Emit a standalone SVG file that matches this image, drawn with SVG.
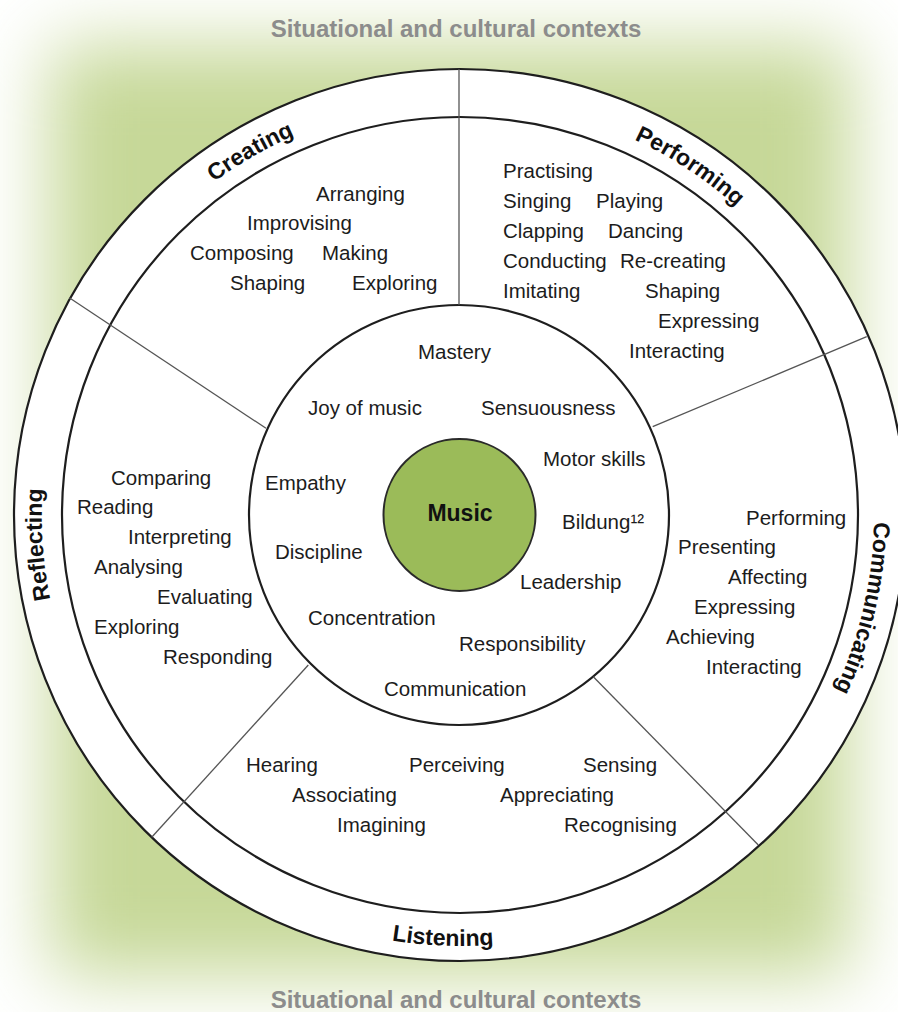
<svg xmlns="http://www.w3.org/2000/svg" width="898" height="1012" viewBox="0 0 898 1012">
<defs>
<filter id="soft" x="-20%" y="-20%" width="140%" height="140%"><feGaussianBlur stdDeviation="38"/></filter>
<path id="pCreating" d="M 71.0 373.4 A 414 414 0 0 1 531.9 107.3"/>
<path id="pPerforming" d="M 412.4 103.7 A 414 414 0 0 1 856.7 396.7"/>
<path id="pCommunicating" d="M 828.9 327.0 A 414 414 0 0 1 709.1 845.6"/>
<path id="pReflecting" d="M 159.0 805.7 A 418 418 0 0 1 121.8 269.3"/>
<path id="pListening" d="M 169.8 833.6 A 431 431 0 0 0 723.6 856.0"/>
</defs>
<style>
.bg{fill:#c6d898}
.ring{fill:#fff;stroke:#1e1e1e;stroke-width:2.2}
.sep{stroke:#555;stroke-width:1.3;fill:none}
.t{font-family:"Liberation Sans",Arial,sans-serif;font-size:20.5px;fill:#1c1c1c}
.h{font-family:"Liberation Sans",Arial,sans-serif;font-size:23px;font-weight:bold;fill:#111}
.ctx{font-family:"Liberation Sans",Arial,sans-serif;font-size:24px;font-weight:bold;fill:#8c8c8c;text-anchor:middle}
.music{fill:#9bbb59;stroke:#2a2a2a;stroke-width:2}
</style>
<rect width="898" height="1012" fill="#ffffff"/>
<rect class="bg" x="50" y="45" width="800" height="930" filter="url(#soft)"/>
<g id="context">
<text class="ctx" x="456" y="37">Situational and cultural contexts</text>
<text class="ctx" x="456" y="1008">Situational and cultural contexts</text>
</g>
<g id="rings">
<circle class="ring" cx="460" cy="515" r="446"/>
<circle class="ring" cx="460" cy="515" r="398" stroke-width="2"/>
<circle class="ring" cx="459" cy="515" r="210" stroke-width="2"/>
</g>
<g id="connectors">
<line class="sep" x1="459" y1="69" x2="459" y2="305"/>
<line class="sep" x1="69.3" y1="297.7" x2="266" y2="428.3"/>
<line class="sep" x1="866.7" y1="336.7" x2="652.7" y2="426.7"/>
<line class="sep" x1="151.7" y1="837.3" x2="308.3" y2="665"/>
<line class="sep" x1="758.3" y1="845" x2="593.3" y2="676.7"/>
</g>
<g id="music">
<circle class="music" cx="459.5" cy="515" r="76"/>
<text x="460" y="521" text-anchor="middle" style="font-family:'Liberation Sans',Arial,sans-serif;font-size:23px;font-weight:bold;fill:#111">Music</text>
</g>
<g id="outcomes" class="t">
<text class="t" x="418" y="359">Mastery</text>
<text class="t" x="308" y="415">Joy of music</text>
<text class="t" x="481" y="415">Sensuousness</text>
<text class="t" x="543" y="466">Motor skills</text>
<text class="t" x="265" y="490">Empathy</text>
<text class="t" x="562" y="529">Bildung¹²</text>
<text class="t" x="275" y="559">Discipline</text>
<text class="t" x="520" y="589">Leadership</text>
<text class="t" x="308" y="625">Concentration</text>
<text class="t" x="459" y="651">Responsibility</text>
<text class="t" x="384" y="696">Communication</text>
</g>
<g id="creating">
<text class="h"><textPath href="#pCreating" startOffset="50%" text-anchor="middle">Creating</textPath></text>
<text class="t" x="316" y="201">Arranging</text>
<text class="t" x="247" y="230">Improvising</text>
<text class="t" x="190" y="260">Composing</text>
<text class="t" x="322" y="260">Making</text>
<text class="t" x="230" y="290">Shaping</text>
<text class="t" x="352" y="290">Exploring</text>
</g>
<g id="performing">
<text class="h"><textPath href="#pPerforming" startOffset="50%" text-anchor="middle">Performing</textPath></text>
<text class="t" x="503" y="178">Practising</text>
<text class="t" x="503" y="208">Singing</text>
<text class="t" x="596" y="208">Playing</text>
<text class="t" x="503" y="238">Clapping</text>
<text class="t" x="608" y="238">Dancing</text>
<text class="t" x="503" y="268">Conducting</text>
<text class="t" x="620" y="268">Re-creating</text>
<text class="t" x="503" y="298">Imitating</text>
<text class="t" x="645" y="298">Shaping</text>
<text class="t" x="658" y="328">Expressing</text>
<text class="t" x="629" y="358">Interacting</text>
</g>
<g id="communicating">
<text class="h"><textPath href="#pCommunicating" startOffset="50%" text-anchor="middle">Communicating</textPath></text>
<text class="t" x="746" y="525">Performing</text>
<text class="t" x="678" y="554">Presenting</text>
<text class="t" x="728" y="584">Affecting</text>
<text class="t" x="694" y="614">Expressing</text>
<text class="t" x="666" y="644">Achieving</text>
<text class="t" x="706" y="674">Interacting</text>
</g>
<g id="listening">
<text class="h"><textPath href="#pListening" startOffset="50%" text-anchor="middle">Listening</textPath></text>
<text class="t" x="246" y="772">Hearing</text>
<text class="t" x="409" y="772">Perceiving</text>
<text class="t" x="583" y="772">Sensing</text>
<text class="t" x="292" y="802">Associating</text>
<text class="t" x="500" y="802">Appreciating</text>
<text class="t" x="337" y="832">Imagining</text>
<text class="t" x="564" y="832">Recognising</text>
</g>
<g id="reflecting">
<text class="h"><textPath href="#pReflecting" startOffset="50%" text-anchor="middle">Reflecting</textPath></text>
<text class="t" x="111" y="485">Comparing</text>
<text class="t" x="77" y="514">Reading</text>
<text class="t" x="128" y="544">Interpreting</text>
<text class="t" x="94" y="574">Analysing</text>
<text class="t" x="157" y="604">Evaluating</text>
<text class="t" x="94" y="634">Exploring</text>
<text class="t" x="163" y="664">Responding</text>
</g>
</svg>
